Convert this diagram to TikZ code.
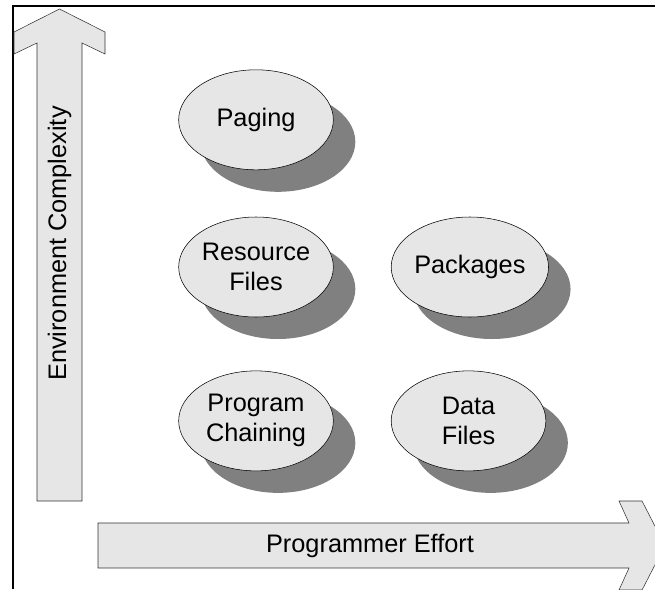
\documentclass[tikz,border=0pt]{standalone}
\usepackage{fontspec}
\setmainfont{Liberation Sans}
\usepackage{tikz}
\usetikzlibrary{positioning,shadows,shapes}
\definecolor{bubblefill}{RGB}{230,230,230}
\definecolor{bubbleshade}{RGB}{128,128,128}
\tikzset{
chart/.style={x=0.75pt,y=-0.75pt,node distance=38pt and 43pt,
font=\fontsize{19}{22.5}\selectfont},
topic/.style={ellipse,draw,thin,fill=bubblefill,minimum width=116pt,
minimum height=75pt,inner sep=0pt,align=center,
drop shadow={shadow xshift=16.5pt,shadow yshift=-16.5pt,
fill=bubbleshade,opacity=1}},
axis/.style={draw=black!80,thin,fill=bubblefill},
frame/.style={line width=1.5pt},
}
\begin{document}
\begin{tikzpicture}[chart]
                    \useasboundingbox (0,0) rectangle (655,589);
                    \draw[frame] (13,589) -- (13,6) -- (655,6);

                    \path[axis] (59.5,9) -- (105,32) -- (105,54) -- (82,43)
                      -- (82,501) -- (37,501) -- (37,43) -- (14,54) -- (14,32) -- cycle;
                    \path[axis] (98,523) -- (629,523) -- (619,501) -- (642,501)
                      -- (665,545.5) -- (642,590) -- (619,590) -- (629,568) -- (98,568) -- cycle;
                    \node[rotate=90] (complexity) at (59.5,243.5) {Environment Complexity};
                    \node (effort) at (370,545.5) {Programmer Effort};

                    \node[topic] (resource) at (256,267) {Resource\\Files};
                    \node[topic] (paging) [above = 35pt of resource] {Paging};
                    \node[topic] (packages) [right = of resource] {Packages};
                    \node[topic] (chaining) [below = 40pt of resource] {Program\\Chaining};
                    \node[topic] (data) [right = of chaining] {Data\\Files};
                \end{tikzpicture}
\end{document}
